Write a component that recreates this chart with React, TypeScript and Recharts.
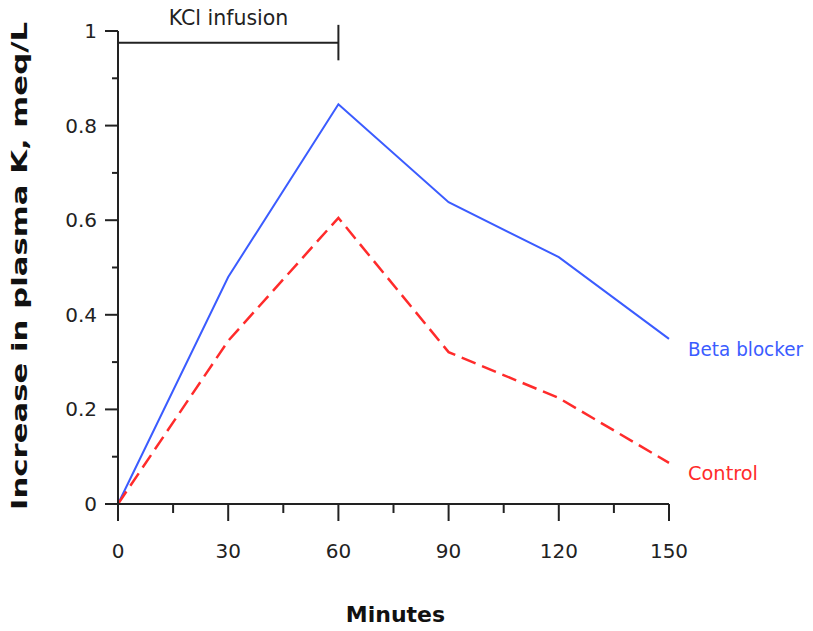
import React from "react";
import { LineChart, Line, XAxis, YAxis, ReferenceLine } from "recharts";

const minutes = [0, 30, 60, 90, 120, 150];
const betaBlocker = [0, 0.48, 0.845, 0.638, 0.522, 0.349];
const control = [0, 0.345, 0.605, 0.321, 0.224, 0.087];
const xTicks = [0, 15, 30, 45, 60, 75, 90, 105, 120, 135, 150];
const yTicks = [0, 0.1, 0.2, 0.3, 0.4, 0.5, 0.6, 0.7, 0.8, 0.9, 1];
const seriesNames = ["Beta blocker", "Control"];

const data = minutes.map((m, i) => ({ m, beta: betaBlocker[i], control: control[i] }));

const FONT = "DejaVu Sans";
const AXIS = "#222";

const XTick = (props: any) => {
  const { x, y, payload } = props;
  const v = payload.value;
  const major = v % 30 === 0;
  return (
    <g>
      <line x1={x} x2={x} y1={y} y2={y + (major ? 17 : 9)} stroke={AXIS} strokeWidth={2} />
      {major && (
        <text x={x} y={y + 54} textAnchor="middle" fontFamily={FONT} fontSize={20} fill="#222">
          {v}
        </text>
      )}
    </g>
  );
};

const YTick = (props: any) => {
  const { x, y, payload } = props;
  const v = Math.round(payload.value * 10) / 10;
  const major = Math.round(v * 10) % 2 === 0;
  return (
    <g>
      <line x1={x} x2={x - (major ? 13 : 6)} y1={y} y2={y} stroke={AXIS} strokeWidth={2} />
      {major && (
        <text x={x - 21} y={y + 7} textAnchor="end" fontFamily={FONT} fontSize={20} fill="#222">
          {String(v)}
        </text>
      )}
    </g>
  );
};

const endLabel = (name: string, color: string, dy: number, len: number) => (props: any) => {
  const { x, y, index } = props;
  if (index !== minutes.length - 1) return null;
  return (
    <text
      x={x + 19}
      y={y + dy}
      fontFamily={FONT}
      fontSize={19.5}
      fill={color}
      textLength={len}
      lengthAdjust="spacingAndGlyphs"
    >
      {name}
    </text>
  );
};

export default function App() {
  return (
    <div style={{ width: 805, height: 615, position: "relative" }}>
      <LineChart
        width={805}
        height={615}
        data={data}
        margin={{ top: 23, right: 144, left: 0, bottom: 0 }}
      >
        <XAxis
          dataKey="m"
          type="number"
          domain={[0, 150]}
          ticks={xTicks}
          interval={0}
          height={119}
          axisLine={{ stroke: AXIS, strokeWidth: 2 }}
          tickLine={false}
          tickSize={0}
          tick={<XTick />}
          tickMargin={0}
        />
        <YAxis
          type="number"
          domain={[0, 1]}
          ticks={yTicks}
          interval={0}
          width={110}
          axisLine={{ stroke: AXIS, strokeWidth: 2 }}
          tickLine={false}
          tickSize={0}
          tick={<YTick />}
          tickMargin={0}
        />
        <ReferenceLine
          segment={[{ x: 0, y: 0.975 }, { x: 60, y: 0.975 }]}
          stroke={AXIS}
          strokeWidth={2}
          ifOverflow="visible"
        />
        <ReferenceLine
          segment={[{ x: 60, y: 1.013 }, { x: 60, y: 0.938 }]}
          stroke={AXIS}
          strokeWidth={2}
          ifOverflow="visible"
        />
        <Line
          type="linear"
          dataKey="beta"
          name={seriesNames[0]}
          stroke="#3b5cff"
          strokeWidth={2}
          dot={false}
          isAnimationActive={false}
          label={endLabel(seriesNames[0], "#3b5cff", 17, 115)}
        />
        <Line
          type="linear"
          dataKey="control"
          name={seriesNames[1]}
          stroke="#ff2b2b"
          strokeWidth={2.5}
          strokeDasharray="15 7"
          dot={false}
          isAnimationActive={false}
          label={endLabel(seriesNames[1], "#ff2b2b", 17, 70)}
        />
      </LineChart>
      <div
        style={{
          position: "absolute",
          left: 110,
          width: 221,
          top: -2,
          textAlign: "center",
          fontFamily: FONT,
          fontSize: 20.5,
          color: "#222",
        }}
      >
        KCl infusion
      </div>
      <div
        style={{
          position: "absolute",
          left: 0,
          width: 775,
          top: 594,
          textAlign: "center",
          fontFamily: FONT,
          fontSize: 22,
          fontWeight: "bold",
          color: "#111",
        }}
      >
        Minutes
      </div>
      <svg width={40} height={615} style={{ position: "absolute", left: 0, top: 0 }}>
        <text
          transform="translate(19,258) rotate(-90)"
          textAnchor="middle"
          fontFamily={FONT}
          fontSize={22}
          fontWeight="bold"
          fill="#111"
          textLength={488}
          lengthAdjust="spacingAndGlyphs"
        >
          Increase in plasma K, meq/L
        </text>
      </svg>
    </div>
  );
}
